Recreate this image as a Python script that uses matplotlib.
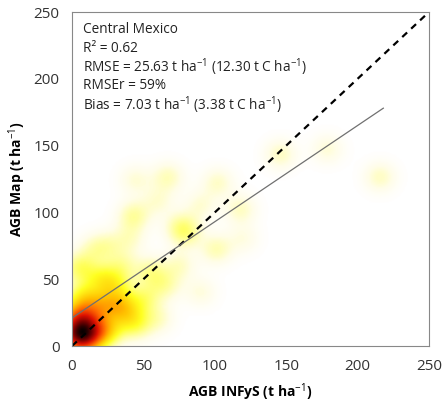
import numpy as np
import matplotlib.pyplot as plt
from matplotlib.colors import LinearSegmentedColormap

plt.rcParams['font.family'] = ['Open Sans', 'DejaVu Sans']
plt.rcParams['mathtext.fontset'] = 'custom'
plt.rcParams['mathtext.rm'] = 'Open Sans'

# density blobs: centre x, centre y, relative weight
blob_x = [1, 6, 14, 4, 12, 20, 33, 8, 25, 40, 50, 30, 45, 55, 20, 5, 65, 60, 35,
          43, 40, 25, 80, 101, 76, 118, 102, 67, 44, 146, 179, 216, 90, 60, 120, 75, 90, 15]
blob_y = [10, 4, 8, 22, 18, 30, 30, 36, 12, 22, 35, 45, 15, 55, 50, 58, 45, 20, 60,
          97, 80, 75, 84, 72, 89, 102, 122, 126, 124, 143, 147, 126, 105, 108, 80, 60, 40, 72]
blob_w = [0.7, 0.65, 0.58, 0.55, 0.45, 0.38, 0.42, 0.32, 0.35, 0.22, 0.2, 0.26, 0.18, 0.18, 0.26, 0.24, 0.15, 0.12, 0.15,
          0.18, 0.11, 0.11, 0.15, 0.15, 0.14, 0.13, 0.12, 0.14, 0.1, 0.13, 0.1, 0.13, 0.1, 0.1, 0.08, 0.12, 0.09, 0.12]

# regression line end points
reg_x = [0, 218]
reg_y = [21, 178]

stats = ["Central Mexico",
         "R² = 0.62",
         "RMSE = 25.63 t ha$^{-1}$ (12.30 t C ha$^{-1}$)",
         "RMSEr = 59%",
         "Bias = 7.03 t ha$^{-1}$ (3.38 t C ha$^{-1}$)"]

gx, gy = np.meshgrid(np.linspace(0, 250, 400), np.linspace(0, 250, 400))
dens = np.zeros_like(gx)
sig = 8.0
for bx, by, bw in zip(blob_x, blob_y, blob_w):
    dens += bw * np.exp(-((gx - bx) ** 2 + (gy - by) ** 2) / (2 * sig ** 2))

cmap = LinearSegmentedColormap.from_list('heat', [
    (0.0, '#ffffff'), (0.04, '#fffde8'), (0.1, '#ffffa0'), (0.2, '#ffff20'),
    (0.35, '#ffc000'), (0.5, '#ff6a00'), (0.68, '#dd1000'), (0.85, '#700000'), (1.0, '#000000')])

fig = plt.figure(figsize=(4.43, 4.11), dpi=100)
ax = fig.add_axes([72 / 443, 65 / 411, 357 / 443, 334 / 411])
ax.imshow(dens, origin='lower', extent=[0, 250, 0, 250], cmap=cmap, vmin=0, vmax=1.85,
          aspect='auto', interpolation='bilinear')
ax.plot([0, 250], [0, 250], color='black', lw=1.6, ls=(0, (3, 2.5)))
ax.plot(reg_x, reg_y, color='#707070', lw=0.9)

ax.set_xlim(0, 250)
ax.set_ylim(0, 250)
ax.set_xticks(range(0, 251, 50))
ax.set_yticks(range(0, 251, 50))
ax.tick_params(length=0, labelsize=11, colors='#333333', pad=9)
for s in ax.spines.values():
    s.set_color('#888888')
    s.set_linewidth(0.8)

ax.set_xlabel('AGB INFyS (t ha$^{-1}$)', fontsize=10, fontweight='bold', labelpad=6)
ax.set_ylabel('AGB Map (t ha$^{-1}$)', fontsize=10, fontweight='bold', labelpad=4)

for i, t in enumerate(stats):
    ax.text(0.03, 0.948 - i * 0.0565, t, transform=ax.transAxes, fontsize=9.8,
            color='#222222', va='center', ha='left')

fig.savefig('out.png', dpi=100)
